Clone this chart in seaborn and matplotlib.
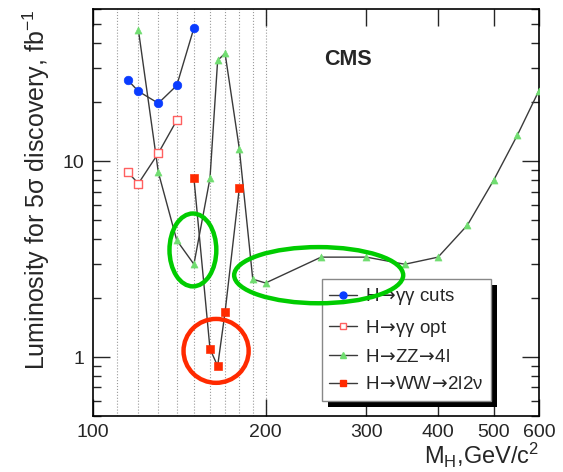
import pandas as pd
import matplotlib
matplotlib.use("Agg")
import matplotlib.pyplot as plt
import seaborn as sns
from matplotlib.lines import Line2D
from matplotlib.patches import Ellipse, Rectangle
from matplotlib.ticker import LogLocator, NullFormatter, NullLocator

# ----------------------------------------------------------------------------------------------
# Data (M_H in GeV/c^2, luminosity in fb^-1)
# ----------------------------------------------------------------------------------------------
gg_cuts_mass = [115, 120, 130, 140, 150]
gg_cuts_lumi = [26.0, 22.8, 19.8, 24.4, 48.0]

gg_opt_mass = [115, 120, 130, 140]
gg_opt_lumi = [8.8, 7.7, 11.0, 16.2]

zz_mass = [120, 130, 140, 150, 160, 165, 170, 180, 190, 200, 250, 300, 350, 400, 450, 500, 550, 600]
zz_lumi = [47.0, 8.8, 3.95, 2.98, 8.2, 32.8, 35.6, 11.6, 2.5, 2.39, 3.24, 3.24, 2.98, 3.24, 4.72, 8.0, 13.6, 23.0]

ww_mass = [150, 160, 165, 170, 180]
ww_lumi = [8.2, 1.1, 0.9, 1.7, 7.3]

arrow = r"$\!\mathsf{\rightarrow}\!$"
channel_labels = ["H" + arrow + "\u03b3\u03b3 cuts", "H" + arrow + "\u03b3\u03b3 opt",
                  "H" + arrow + "ZZ" + arrow + "4l", "H" + arrow + "WW" + arrow + "2l2\u03bd"]
x_ticks = [100, 200, 300, 400, 500, 600]
y_ticks = [1, 10]

# ----------------------------------------------------------------------------------------------
# Style
# ----------------------------------------------------------------------------------------------
sns.set_style("ticks")
plt.rcParams["font.family"] = ["Liberation Sans", "DejaVu Sans"]
plt.rcParams["mathtext.default"] = "regular"
plt.rcParams["mathtext.fontset"] = "custom"
plt.rcParams["mathtext.rm"] = "Liberation Sans"
plt.rcParams["mathtext.it"] = "Liberation Sans"
plt.rcParams["mathtext.sf"] = "DejaVu Sans"

fig = plt.figure(figsize=(5.63, 4.72), dpi=100)
ax = fig.add_axes([93 / 563, 56 / 472, 446 / 563, 407 / 472])

line_col = "#3a3a3a"
series = [
    (gg_cuts_mass, gg_cuts_lumi, dict(marker="o", s=38, color="#0a3cff", edgecolor="#0a3cff")),
    (gg_opt_mass, gg_opt_lumi, dict(marker="s", s=26, facecolor="white", edgecolor="#ff6060", linewidth=1.0)),
    (zz_mass, zz_lumi, dict(marker="^", s=26, color="#70dd70", edgecolor="#70dd70")),
    (ww_mass, ww_lumi, dict(marker="s", s=32, color="#ff2a00", edgecolor="#ff2a00")),
]

# dotted vertical guide lines
for xv in [110, 120, 130, 140, 150, 160, 170, 180, 190, 200]:
    ax.axvline(xv, color="#9a9a9a", ls=":", lw=0.8, zorder=0)

for mass, lumi, mk in series:
    df = pd.DataFrame({"mass": mass, "lumi": lumi})
    sns.lineplot(data=df, x="mass", y="lumi", ax=ax, color=line_col, lw=1.0, sort=False, zorder=2)
    sns.scatterplot(data=df, x="mass", y="lumi", ax=ax, zorder=3, **mk)

ax.set_xscale("log")
ax.set_yscale("log")
ax.set_xlim(100, 600)
ax.set_ylim(0.5, 60)

ax.set_xticks(x_ticks, labels=[str(v) for v in x_ticks])
ax.xaxis.set_minor_locator(NullLocator())
ax.set_yticks(y_ticks, labels=[str(v) for v in y_ticks])
ax.yaxis.set_minor_locator(LogLocator(base=10, subs=range(2, 10)))
ax.yaxis.set_minor_formatter(NullFormatter())

ax.tick_params(which="both", direction="in", top=True, right=True, labelsize=14, width=1.0)
ax.tick_params(which="major", length=12, pad=6)
ax.tick_params(which="minor", length=6)
for sp in ax.spines.values():
    sp.set_linewidth(1.2)
    sp.set_color("black")

ax.set_xlabel("M$_H$,GeV/c$^2$", fontsize=17, loc="right", labelpad=0)
ax.set_ylabel("Luminosity for 5\u03c3 discovery, fb$^{-1}$", fontsize=18, loc="top", labelpad=8)

ax.text(0.572, 0.875, "CMS", transform=ax.transAxes, fontsize=15.5, fontweight="bold",
        ha="center", va="center")

# legend with drop shadow
handles = []
for (mass, lumi, mk) in series:
    fc = mk.get("facecolor", mk.get("color"))
    handles.append(Line2D([], [], color=line_col, lw=1.0, marker=mk["marker"], markersize=5,
                          markerfacecolor=fc, markeredgecolor=mk["edgecolor"]))
leg = ax.legend(handles, channel_labels, loc="lower left", bbox_to_anchor=(0.513, 0.037),
                fontsize=13.5, frameon=True, fancybox=False, framealpha=1, edgecolor="#888888",
                handlelength=1.5, handletextpad=0.4, labelspacing=0.55, borderpad=0.4,
                borderaxespad=0)
leg.get_frame().set_linewidth(1.0)
leg.set_zorder(5)
fig.canvas.draw()
bb = leg.get_window_extent().transformed(ax.transAxes.inverted())
ax.add_patch(Rectangle((bb.x0 + 6 / 446, bb.y0 - 6 / 407), bb.width, bb.height,
                       transform=ax.transAxes, facecolor="black", edgecolor="none",
                       zorder=4.5, clip_on=False))

# highlight ellipses
ax.add_patch(Ellipse((0.506, 0.346), 0.379, 0.138, transform=ax.transAxes, fill=False,
                     edgecolor="#00cc00", lw=3.2, zorder=6))
ax.add_patch(Ellipse((0.224, 0.408), 0.105, 0.179, transform=ax.transAxes, fill=False,
                     edgecolor="#00cc00", lw=3.2, zorder=6))
ax.add_patch(Ellipse((0.276, 0.160), 0.146, 0.157, transform=ax.transAxes, fill=False,
                     edgecolor="#ff2a00", lw=3.2, zorder=6))

plt.savefig("out.png", dpi=100)
plt.close()
